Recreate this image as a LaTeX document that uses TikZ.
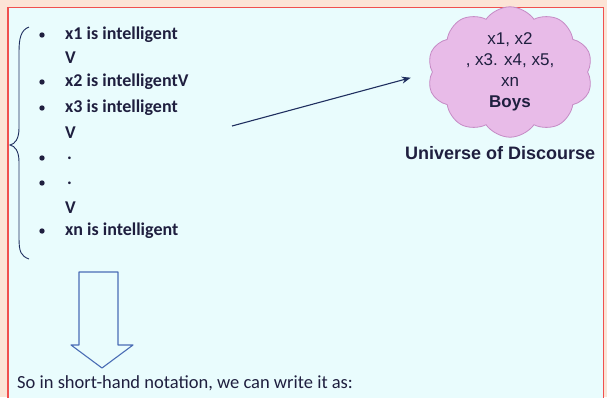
\documentclass[tikz,border=0pt]{standalone}
\usepackage{fontspec}
\setmainfont{Carlito}
\newfontfamily\arialfont{Liberation Sans}
\usepackage{tikz}
\usetikzlibrary{positioning, arrows.meta, shapes.symbols}

\definecolor{pagebg}{HTML}{FCE4D6}
\definecolor{panelbg}{HTML}{E9FCFD}
\definecolor{panelred}{HTML}{F0504F}
\definecolor{inkblue}{HTML}{1F1F3F}
\definecolor{lineblue}{HTML}{1F2F5F}
\definecolor{cloudfill}{HTML}{E8BBE8}
\definecolor{clouddraw}{HTML}{C58BC5}
\definecolor{hollowblue}{HTML}{4A6DB5}

\begin{document}
\begin{tikzpicture}[
    x=1pt, y=-1pt,
    item/.style={anchor=west, inner sep=0pt, text=inkblue, font=\fontsize{18}{20}\selectfont\bfseries},
    note/.style={anchor=west, inner sep=0pt, text=inkblue, font=\fontsize{18.5}{21}\selectfont},
    arrow/.style={-{Stealth[length=9pt, width=7pt]}, line width=1.1pt, draw=lineblue},
    boyscloud/.style={cloud, cloud puffs=10, cloud puff arc=110, aspect=1.4, draw=clouddraw, fill=cloudfill,
        line width=0.8pt, minimum width=156pt, minimum height=115pt, inner sep=0pt, align=center,
        text=inkblue, font=\arialfont\fontsize{17}{21}\selectfont},
    hollow/.style={draw=hollowblue, line width=1.1pt, line join=round}
]
\useasboundingbox (0,0) rectangle (607,397);

% Hintergrund
\fill[pagebg] (0,0) rectangle (607,397);
\filldraw[fill=panelbg, draw=panelred, line width=1.2pt] (8,7.5) rectangle (603.5,400);

% Liste
\node[item] (l1) at (65,35) {x1 is intelligent};
\node[item] (l2) at (65,58) {V};
\node[item] (l3) at (65,82) {x2 is intelligentV};
\node[item] (l4) at (65,108) {x3 is intelligent};
\node[item] (l5) at (65,133) {V};
\node[item] (l6) at (67,158) {.};
\node[item] (l7) at (67,183) {.};
\node[item] (l8) at (65,208) {V};
\node[item] (l9) at (65,231) {xn is intelligent};
\foreach \y in {35,82,108,158,183,231}
    \fill[inkblue] (42,\y) circle (2.7pt);

% Klammer
\draw[lineblue, line width=0.9pt] (29,27) .. controls (21,30) and (19,38) .. (19,52)
    -- (19,128) .. controls (19,139) and (15,144) .. (10,145)
    .. controls (15,146) and (19,151) .. (19,162)
    -- (19,238) .. controls (19,252) and (21,256) .. (29,259);

% Wolke
\node[boyscloud] (boys) at (510,72) {x1, x2\\, x3. x4, x5,\\xn\\\textbf{Boys}};
\node[anchor=west, inner sep=0pt, text=inkblue, font=\arialfont\fontsize{18}{20}\selectfont\bfseries]
    (uod) at (405,153) {Universe of Discourse};

% Pfeile
\coordinate (from) at (232,126);
\draw[arrow, shorten >=22pt] (from) -- (boys.west);
\draw[hollow] (79,272) -- (118,272) -- (118,345) -- (133,345) -- (102,368)
    -- (71,345) -- (79,345) -- cycle;

% Unten
\node[note] (sum) at (17,383) {So in short-hand notation, we can write it as:};

\end{tikzpicture}
\end{document}
